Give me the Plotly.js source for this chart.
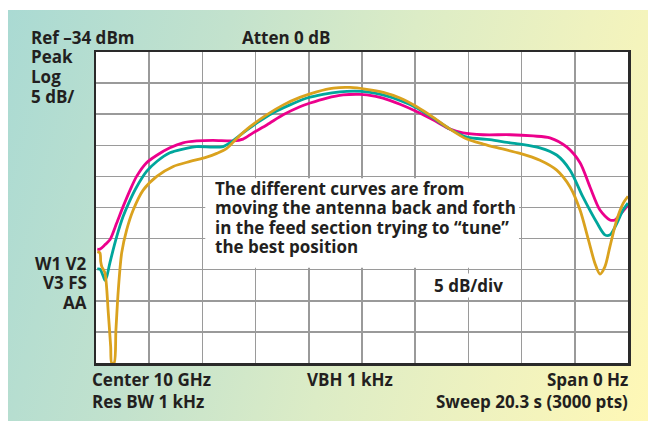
<!DOCTYPE html>
<html>
<head>
<meta charset="utf-8">
<script src="https://cdn.plot.ly/plotly-3.0.1.min.js"></script>
<style>
  html, body { margin: 0; padding: 0; background: #ffffff; }
  #panel {
    position: absolute; left: 8px; top: 10px; width: 640px; height: 411px;
    background: linear-gradient(105deg, #aadad3 0%, #c3e2cd 30%, #dcecc6 55%, #eff2bf 78%, #fff8b6 100%);
  }
  #chart { position: absolute; left: 0; top: 0; width: 654px; height: 424px; }
</style>
</head>
<body>
<div id="panel"></div>
<div id="chart"></div>
<script>
// Zero-span sweep, 20.3 s across the screen; level in dBm (Ref -34 dBm, 5 dB/div)
const magentaTime = [0.05,0.15,0.34,0.53,0.79,1.03,1.30,1.55,1.93,2.32,2.82,3.32,3.84,4.46,5.23,5.61,5.99,6.53,7.14,7.78,8.17,8.81,9.43,10.07,10.34,10.95,11.60,12.25,12.86,13.51,14.00,14.77,15.80,16.68,17.32,17.97,18.47,18.85,19.23,19.61,19.80,19.99,20.30];
const magentaLevel = [-65.7,-65.7,-65.0,-64.2,-61.5,-58.9,-56.2,-54.0,-51.8,-50.6,-49.4,-48.6,-48.3,-48.2,-48.3,-48.0,-47.0,-45.7,-44.1,-42.8,-42.2,-41.4,-40.9,-40.8,-40.9,-41.4,-42.4,-43.6,-44.9,-46.4,-47.0,-47.3,-47.3,-47.5,-47.8,-49.3,-51.8,-55.7,-59.4,-61.0,-61.0,-60.2,-58.6];

const tealTime = [0.05,0.15,0.28,0.34,0.41,0.53,0.79,1.03,1.30,1.55,1.93,2.32,2.82,3.32,3.84,4.46,4.85,5.11,5.61,6.14,6.75,7.40,8.05,8.66,9.31,9.88,10.34,10.95,11.60,12.25,12.86,13.51,14.16,15.03,15.80,16.18,16.94,17.59,18.09,18.58,19.12,19.42,19.61,19.88,20.11,20.30];
const tealLevel = [-68.9,-68.9,-70.1,-70.7,-70.1,-67.9,-63.7,-60.5,-57.8,-55.7,-53.2,-51.6,-50.2,-49.6,-49.2,-49.3,-49.2,-48.6,-47.0,-45.4,-43.8,-42.5,-41.4,-40.8,-40.4,-40.3,-40.4,-40.9,-41.8,-43.0,-44.6,-46.4,-47.7,-48.1,-48.6,-48.8,-49.4,-50.6,-53.0,-57.3,-61.5,-63.4,-63.4,-61.5,-59.4,-58.3];

const goldTime = [0.05,0.15,0.18,0.22,0.34,0.47,0.56,0.60,0.69,0.76,0.85,0.98,1.17,1.42,1.80,2.32,2.95,3.59,4.22,4.61,4.99,5.37,5.88,6.51,7.15,7.78,8.42,9.06,9.69,10.33,10.96,11.60,12.24,12.87,13.51,14.15,14.78,15.42,16.18,16.94,17.58,18.09,18.47,18.79,19.04,19.23,19.42,19.61,19.87,20.12,20.30];
const goldLevel = [-66.1,-66.3,-67.7,-68.5,-69.5,-76.0,-81.4,-84.0,-84.0,-78.7,-72.3,-66.3,-62.6,-59.4,-56.2,-54.0,-52.4,-51.6,-50.9,-50.3,-49.5,-47.9,-46.0,-44.1,-42.5,-41.3,-40.4,-39.8,-39.7,-40.0,-40.5,-41.4,-42.8,-44.5,-46.4,-48.0,-48.8,-49.5,-50.3,-51.4,-53.0,-55.7,-59.4,-64.2,-68.0,-69.7,-68.5,-65.3,-61.0,-58.3,-57.2];

const refLevel = -34;
const dbPerDiv = 5;
const sweepTime = 20.3;

const headerLeft = ['Ref \u201334 dBm', 'Peak', 'Log', '5 dB/'];
const traceLabels = ['W1 V2', 'V3 FS', 'AA'];
const footerLeft = ['Center 10 GHz', 'Res BW 1 kHz'];
const footerRight = ['Span 0 Hz', 'Sweep 20.3 s (3000 pts)'];
const noteText = ['The different curves are from', 'moving the antenna back and forth', 'in the feed section trying to \u201ctune\u201d', 'the best position'];

const ink = '#231f20';
const font = { family: '"Open Sans", Lato, sans-serif', size: 17, color: ink, weight: 700 };

function curve(x, y, color) {
  return { x: x, y: y, type: 'scatter', mode: 'lines', hoverinfo: 'skip',
           line: { color: color, width: 2.8, shape: 'spline', smoothing: 0.8 } };
}

const data = [
  curve(magentaTime, magentaLevel, '#ec008c'),
  curve(tealTime, tealLevel, '#00a69c'),
  curve(goldTime, goldLevel, '#daa21e')
];

const bottom = refLevel - 10 * dbPerDiv;

function label(text, x, y, xanchor) {
  return { text: '<b>' + text + '</b>', xref: 'paper', yref: 'paper', x: x, y: y,
           xanchor: xanchor, yanchor: 'middle', showarrow: false, font: font };
}
// paper coordinates from the plot box: left 96, top 52, width 532, height 311
const px = v => (v - 96) / 532;
const py = v => (363 - v) / 311;

const annotations = [];
headerLeft.forEach((t, i) => annotations.push(label(t, px(29), py(37 + i * 19.8), 'left')));
annotations.push(label('Atten 0 dB', px(240), py(37), 'left'));
traceLabels.forEach((t, i) => annotations.push(label(t, px(89), py(263 + i * 19.8), 'right')));
footerLeft.forEach((t, i) => annotations.push(label(t, px(90), py(380 + i * 21), 'left')));
annotations.push(label('VBH 1 kHz', px(305), py(380), 'left'));
footerRight.forEach((t, i) => annotations.push(label(t, px(630), py(380 + i * 21), 'right')));
noteText.forEach((t, i) => annotations.push(label(t, px(213), py(188 + i * 19.6), 'left')));
annotations.push({ text: '<b>5 dB/div</b>', xref: 'x', yref: 'y', x: 14.2, y: -71.5,
  xanchor: 'center', yanchor: 'middle', showarrow: false, font: font, bgcolor: '#ffffff', borderpad: 0 });

const layout = {
  width: 654, height: 424,
  margin: { l: 96, r: 26, t: 52, b: 61 },
  paper_bgcolor: 'rgba(0,0,0,0)',
  plot_bgcolor: '#ffffff',
  showlegend: false,
  xaxis: { range: [0, sweepTime], tick0: 0, dtick: sweepTime / 10, showticklabels: false, ticks: '',
           showgrid: true, gridcolor: '#9a9a9a', gridwidth: 1.5, zeroline: false,
           showline: true, mirror: true, linecolor: '#2a2a2a', linewidth: 2.5, fixedrange: true },
  yaxis: { range: [bottom, refLevel], tick0: bottom, dtick: dbPerDiv, showticklabels: false, ticks: '',
           showgrid: true, gridcolor: '#9a9a9a', gridwidth: 1.5, zeroline: false,
           showline: true, mirror: true, linecolor: '#2a2a2a', linewidth: 2.5, fixedrange: true },
  shapes: [{ type: 'rect', layer: 'between', xref: 'x', yref: 'y',
             x0: 4.17, x1: 16.14, y0: -54.3, y1: -68.7,
             fillcolor: '#ffffff', line: { width: 0 } }],
  annotations: annotations
};

Plotly.newPlot('chart', data, layout, { displayModeBar: false, staticPlot: true });
</script>
</body>
</html>
